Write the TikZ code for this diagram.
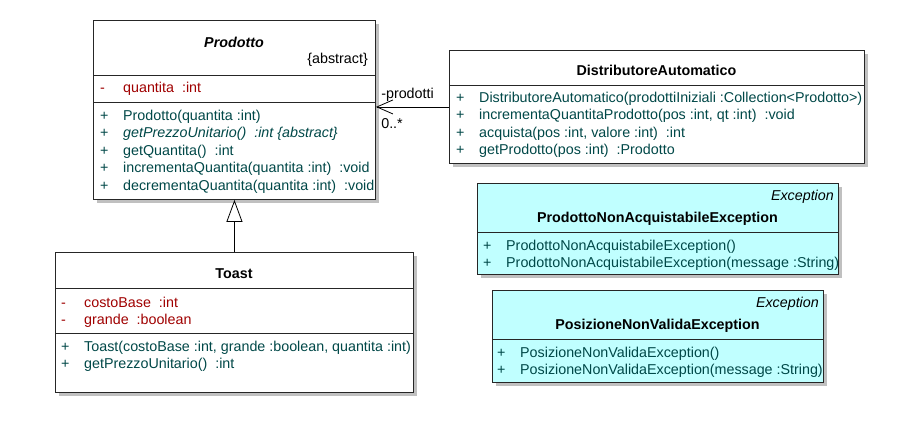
\documentclass[tikz,border=0pt]{standalone}
\usepackage{fontspec}
\setmainfont{Liberation Sans}
\usetikzlibrary{arrows.meta,shadows}
\definecolor{attrred}{RGB}{160,0,0}
\definecolor{opteal}{RGB}{0,72,72}
\definecolor{excyan}{RGB}{192,255,255}
\definecolor{shadowgray}{RGB}{192,192,192}
\newcommand{\umlsize}{\fontsize{14.3}{17.5}\selectfont}
\newcommand{\vis}[1]{\makebox[23pt][l]{#1}}
\tikzset{
  classbox/.style={
    draw=black!85,
    line width=0.9pt,
    fill=white,
    anchor=north west,
    inner sep=0pt,
    drop shadow={shadow xshift=4pt, shadow yshift=-4pt, fill=shadowgray, opacity=1}
  },
  exbox/.style={classbox, fill=excyan},
  sepline/.style={draw=black!85, line width=0.9pt},
  title/.style={font=\umlsize\bfseries, anchor=base, inner sep=0pt},
  stereo/.style={font=\umlsize\itshape, anchor=base east, inner sep=0pt},
  attrs/.style={text=attrred, anchor=base west, inner sep=0pt},
  ops/.style={text=opteal, anchor=base west, inner sep=0pt},
  inherit/.style={-{Triangle[open, length=22pt, width=16pt]}, line width=0.8pt},
  assoc/.style={-{Straight Barb[length=16pt, width=14pt]}, line width=0.8pt}
}

\begin{document}
\begin{tikzpicture}[x=1pt, y=-1pt, font=\umlsize]
        \useasboundingbox (0,0) rectangle (899,431);

        \node[classbox, minimum width=282pt, minimum height=179pt] (prodotto) at (93,20) {};
        \node[title, font=\umlsize\bfseries\itshape] at (234,47) {Prodotto};
        \node[anchor=base east, inner sep=0pt] at (368,63) {\{abstract\}};
        \draw[sepline] (93,75) -- (375,75);
        \draw[sepline] (93,102) -- (375,102);
        \node[attrs] at (100,92) {\vis{-}quantita~~:int};
        \node[ops] at (100,120) {\begin{tabular}[t]{@{}l@{}}
          \vis{+}Prodotto(quantita :int)\\
          \vis{+}\textit{getPrezzoUnitario()~~:int \{abstract\}}\\
          \vis{+}getQuantita()~~:int\\
          \vis{+}incrementaQuantita(quantita :int)~~:void\\
          \vis{+}decrementaQuantita(quantita :int)~~:void
        \end{tabular}};

        \node[classbox, minimum width=358pt, minimum height=140pt] (toast) at (55,252) {};
        \node[title] at (234,278) {Toast};
        \draw[sepline] (55,288) -- (413,288);
        \draw[sepline] (55,333) -- (413,333);
        \node[attrs] at (61,307) {\begin{tabular}[t]{@{}l@{}}
          \vis{-}costoBase~~:int\\
          \vis{-}grande~~:boolean
        \end{tabular}};
        \node[ops] at (61,351) {\begin{tabular}[t]{@{}l@{}}
          \vis{+}Toast(costoBase :int, grande :boolean, quantita :int)\\
          \vis{+}getPrezzoUnitario()~~:int
        \end{tabular}};

        \node[classbox, minimum width=415pt, minimum height=113pt] (distributore) at (449,50) {};
        \node[title] at (656.5,75) {DistributoreAutomatico};
        \draw[sepline] (449,85) -- (864,85);
        \node[ops] at (456,102) {\begin{tabular}[t]{@{}l@{}}
          \vis{+}DistributoreAutomatico(prodottiIniziali :Collection<Prodotto>)\\
          \vis{+}incrementaQuantitaProdotto(pos :int, qt :int)~~:void\\
          \vis{+}acquista(pos :int, valore :int)~~:int\\
          \vis{+}getProdotto(pos :int)~~:Prodotto
        \end{tabular}};

        \node[exbox, minimum width=361pt, minimum height=91pt] (nonacquistabile) at (477,183) {};
        \node[stereo] at (834,200) {Exception};
        \node[title] at (657.5,222) {ProdottoNonAcquistabileException};
        \draw[sepline] (477,232) -- (838,232);
        \node[ops] at (483,250) {\begin{tabular}[t]{@{}l@{}}
          \vis{+}ProdottoNonAcquistabileException()\\
          \vis{+}ProdottoNonAcquistabileException(message :String)
        \end{tabular}};

        \node[exbox, minimum width=331pt, minimum height=92pt] (nonvalida) at (492,290) {};
        \node[stereo] at (819,307) {Exception};
        \node[title] at (657.5,329) {PosizioneNonValidaException};
        \draw[sepline] (492,339) -- (823,339);
        \node[ops] at (497,357) {\begin{tabular}[t]{@{}l@{}}
          \vis{+}PosizioneNonValidaException()\\
          \vis{+}PosizioneNonValidaException(message :String)
        \end{tabular}};

        \draw[inherit] (toast.north) -- (toast.north |- prodotto.south);
        \draw[assoc] (distributore.west) -- (distributore.west -| prodotto.east)
          node[pos=1, anchor=base west, inner sep=0pt, xshift=5pt, yshift=8.5pt] {-prodotti}
          node[pos=1, anchor=base west, inner sep=0pt, xshift=5pt, yshift=-21.5pt] {0..*};
      \end{tikzpicture}
\end{document}
